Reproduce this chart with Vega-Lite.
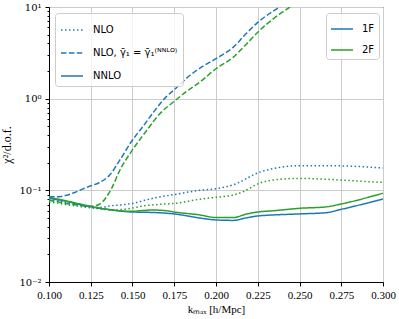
{
  "$schema": "https://vega.github.io/schema/vega-lite/v6.json",
  "width": 334,
  "height": 275,
  "autosize": "none",
  "padding": {"left": 49, "top": 7, "right": 16, "bottom": 37},
  "background": "white",
  "config": {
    "view": {"stroke": "black", "strokeWidth": 1},
    "axis": {
      "domainColor": "black",
      "tickColor": "black",
      "labelFont": "Liberation Serif",
      "labelFontSize": 11,
      "labelColor": "black",
      "titleFont": "Liberation Serif",
      "titleFontSize": 11,
      "titleFontWeight": "normal",
      "titleColor": "black",
      "gridColor": "#cccccc",
      "gridWidth": 1
    }
  },
  "data": {
    "values": [
      {"k": 0.100, "chi2": 0.085, "order": "NLO_gamma", "fit": "1F"},
      {"k": 0.105, "chi2": 0.085, "order": "NLO_gamma", "fit": "1F"},
      {"k": 0.110, "chi2": 0.088, "order": "NLO_gamma", "fit": "1F"},
      {"k": 0.115, "chi2": 0.094, "order": "NLO_gamma", "fit": "1F"},
      {"k": 0.120, "chi2": 0.103, "order": "NLO_gamma", "fit": "1F"},
      {"k": 0.125, "chi2": 0.112, "order": "NLO_gamma", "fit": "1F"},
      {"k": 0.130, "chi2": 0.121, "order": "NLO_gamma", "fit": "1F"},
      {"k": 0.1365, "chi2": 0.148, "order": "NLO_gamma", "fit": "1F"},
      {"k": 0.1425, "chi2": 0.215, "order": "NLO_gamma", "fit": "1F"},
      {"k": 0.150, "chi2": 0.354, "order": "NLO_gamma", "fit": "1F"},
      {"k": 0.156, "chi2": 0.49, "order": "NLO_gamma", "fit": "1F"},
      {"k": 0.162, "chi2": 0.69, "order": "NLO_gamma", "fit": "1F"},
      {"k": 0.170, "chi2": 1.04, "order": "NLO_gamma", "fit": "1F"},
      {"k": 0.176, "chi2": 1.30, "order": "NLO_gamma", "fit": "1F"},
      {"k": 0.1844, "chi2": 1.80, "order": "NLO_gamma", "fit": "1F"},
      {"k": 0.192, "chi2": 2.25, "order": "NLO_gamma", "fit": "1F"},
      {"k": 0.200, "chi2": 2.73, "order": "NLO_gamma", "fit": "1F"},
      {"k": 0.2104, "chi2": 3.65, "order": "NLO_gamma", "fit": "1F"},
      {"k": 0.2175, "chi2": 5.0, "order": "NLO_gamma", "fit": "1F"},
      {"k": 0.225, "chi2": 6.8, "order": "NLO_gamma", "fit": "1F"},
      {"k": 0.238, "chi2": 10.0, "order": "NLO_gamma", "fit": "1F"},
      {"k": 0.250, "chi2": 14.0, "order": "NLO_gamma", "fit": "1F"},

      {"k": 0.100, "chi2": 0.078, "order": "NLO_gamma", "fit": "2F"},
      {"k": 0.105, "chi2": 0.075, "order": "NLO_gamma", "fit": "2F"},
      {"k": 0.110, "chi2": 0.072, "order": "NLO_gamma", "fit": "2F"},
      {"k": 0.115, "chi2": 0.070, "order": "NLO_gamma", "fit": "2F"},
      {"k": 0.120, "chi2": 0.068, "order": "NLO_gamma", "fit": "2F"},
      {"k": 0.125, "chi2": 0.067, "order": "NLO_gamma", "fit": "2F"},
      {"k": 0.1305, "chi2": 0.071, "order": "NLO_gamma", "fit": "2F"},
      {"k": 0.1345, "chi2": 0.085, "order": "NLO_gamma", "fit": "2F"},
      {"k": 0.1375, "chi2": 0.105, "order": "NLO_gamma", "fit": "2F"},
      {"k": 0.1425, "chi2": 0.167, "order": "NLO_gamma", "fit": "2F"},
      {"k": 0.150, "chi2": 0.276, "order": "NLO_gamma", "fit": "2F"},
      {"k": 0.1585, "chi2": 0.45, "order": "NLO_gamma", "fit": "2F"},
      {"k": 0.1665, "chi2": 0.69, "order": "NLO_gamma", "fit": "2F"},
      {"k": 0.1745, "chi2": 0.92, "order": "NLO_gamma", "fit": "2F"},
      {"k": 0.1824, "chi2": 1.2, "order": "NLO_gamma", "fit": "2F"},
      {"k": 0.190, "chi2": 1.5, "order": "NLO_gamma", "fit": "2F"},
      {"k": 0.200, "chi2": 2.12, "order": "NLO_gamma", "fit": "2F"},
      {"k": 0.2104, "chi2": 2.84, "order": "NLO_gamma", "fit": "2F"},
      {"k": 0.218, "chi2": 3.9, "order": "NLO_gamma", "fit": "2F"},
      {"k": 0.225, "chi2": 5.3, "order": "NLO_gamma", "fit": "2F"},
      {"k": 0.2443, "chi2": 10.0, "order": "NLO_gamma", "fit": "2F"},
      {"k": 0.255, "chi2": 13.0, "order": "NLO_gamma", "fit": "2F"},

      {"k": 0.100, "chi2": 0.080, "order": "NLO", "fit": "1F"},
      {"k": 0.110, "chi2": 0.074, "order": "NLO", "fit": "1F"},
      {"k": 0.120, "chi2": 0.068, "order": "NLO", "fit": "1F"},
      {"k": 0.125, "chi2": 0.066, "order": "NLO", "fit": "1F"},
      {"k": 0.130, "chi2": 0.065, "order": "NLO", "fit": "1F"},
      {"k": 0.1375, "chi2": 0.068, "order": "NLO", "fit": "1F"},
      {"k": 0.145, "chi2": 0.070, "order": "NLO", "fit": "1F"},
      {"k": 0.150, "chi2": 0.072, "order": "NLO", "fit": "1F"},
      {"k": 0.1575, "chi2": 0.078, "order": "NLO", "fit": "1F"},
      {"k": 0.165, "chi2": 0.084, "order": "NLO", "fit": "1F"},
      {"k": 0.175, "chi2": 0.090, "order": "NLO", "fit": "1F"},
      {"k": 0.1904, "chi2": 0.100, "order": "NLO", "fit": "1F"},
      {"k": 0.200, "chi2": 0.104, "order": "NLO", "fit": "1F"},
      {"k": 0.2104, "chi2": 0.115, "order": "NLO", "fit": "1F"},
      {"k": 0.2263, "chi2": 0.158, "order": "NLO", "fit": "1F"},
      {"k": 0.2383, "chi2": 0.178, "order": "NLO", "fit": "1F"},
      {"k": 0.2503, "chi2": 0.186, "order": "NLO", "fit": "1F"},
      {"k": 0.2623, "chi2": 0.186, "order": "NLO", "fit": "1F"},
      {"k": 0.2822, "chi2": 0.183, "order": "NLO", "fit": "1F"},
      {"k": 0.300, "chi2": 0.175, "order": "NLO", "fit": "1F"},

      {"k": 0.100, "chi2": 0.075, "order": "NLO", "fit": "2F"},
      {"k": 0.110, "chi2": 0.070, "order": "NLO", "fit": "2F"},
      {"k": 0.120, "chi2": 0.066, "order": "NLO", "fit": "2F"},
      {"k": 0.130, "chi2": 0.063, "order": "NLO", "fit": "2F"},
      {"k": 0.1375, "chi2": 0.061, "order": "NLO", "fit": "2F"},
      {"k": 0.150, "chi2": 0.064, "order": "NLO", "fit": "2F"},
      {"k": 0.1575, "chi2": 0.068, "order": "NLO", "fit": "2F"},
      {"k": 0.165, "chi2": 0.070, "order": "NLO", "fit": "2F"},
      {"k": 0.175, "chi2": 0.072, "order": "NLO", "fit": "2F"},
      {"k": 0.1904, "chi2": 0.080, "order": "NLO", "fit": "2F"},
      {"k": 0.200, "chi2": 0.084, "order": "NLO", "fit": "2F"},
      {"k": 0.2104, "chi2": 0.089, "order": "NLO", "fit": "2F"},
      {"k": 0.2164, "chi2": 0.097, "order": "NLO", "fit": "2F"},
      {"k": 0.2263, "chi2": 0.120, "order": "NLO", "fit": "2F"},
      {"k": 0.2383, "chi2": 0.132, "order": "NLO", "fit": "2F"},
      {"k": 0.2503, "chi2": 0.135, "order": "NLO", "fit": "2F"},
      {"k": 0.2623, "chi2": 0.133, "order": "NLO", "fit": "2F"},
      {"k": 0.2822, "chi2": 0.127, "order": "NLO", "fit": "2F"},
      {"k": 0.300, "chi2": 0.122, "order": "NLO", "fit": "2F"},

      {"k": 0.100, "chi2": 0.082, "order": "NNLO", "fit": "1F"},
      {"k": 0.110, "chi2": 0.076, "order": "NNLO", "fit": "1F"},
      {"k": 0.120, "chi2": 0.069, "order": "NNLO", "fit": "1F"},
      {"k": 0.125, "chi2": 0.066, "order": "NNLO", "fit": "1F"},
      {"k": 0.135, "chi2": 0.062, "order": "NNLO", "fit": "1F"},
      {"k": 0.150, "chi2": 0.058, "order": "NNLO", "fit": "1F"},
      {"k": 0.160, "chi2": 0.0575, "order": "NNLO", "fit": "1F"},
      {"k": 0.175, "chi2": 0.0553, "order": "NNLO", "fit": "1F"},
      {"k": 0.190, "chi2": 0.050, "order": "NNLO", "fit": "1F"},
      {"k": 0.200, "chi2": 0.0475, "order": "NNLO", "fit": "1F"},
      {"k": 0.2104, "chi2": 0.047, "order": "NNLO", "fit": "1F"},
      {"k": 0.218, "chi2": 0.050, "order": "NNLO", "fit": "1F"},
      {"k": 0.225, "chi2": 0.0525, "order": "NNLO", "fit": "1F"},
      {"k": 0.250, "chi2": 0.0553, "order": "NNLO", "fit": "1F"},
      {"k": 0.266, "chi2": 0.057, "order": "NNLO", "fit": "1F"},
      {"k": 0.275, "chi2": 0.062, "order": "NNLO", "fit": "1F"},
      {"k": 0.300, "chi2": 0.0805, "order": "NNLO", "fit": "1F"},

      {"k": 0.100, "chi2": 0.084, "order": "NNLO", "fit": "2F"},
      {"k": 0.110, "chi2": 0.077, "order": "NNLO", "fit": "2F"},
      {"k": 0.120, "chi2": 0.070, "order": "NNLO", "fit": "2F"},
      {"k": 0.125, "chi2": 0.067, "order": "NNLO", "fit": "2F"},
      {"k": 0.135, "chi2": 0.062, "order": "NNLO", "fit": "2F"},
      {"k": 0.150, "chi2": 0.059, "order": "NNLO", "fit": "2F"},
      {"k": 0.155, "chi2": 0.060, "order": "NNLO", "fit": "2F"},
      {"k": 0.162, "chi2": 0.061, "order": "NNLO", "fit": "2F"},
      {"k": 0.170, "chi2": 0.060, "order": "NNLO", "fit": "2F"},
      {"k": 0.175, "chi2": 0.058, "order": "NNLO", "fit": "2F"},
      {"k": 0.190, "chi2": 0.054, "order": "NNLO", "fit": "2F"},
      {"k": 0.200, "chi2": 0.0505, "order": "NNLO", "fit": "2F"},
      {"k": 0.2104, "chi2": 0.0505, "order": "NNLO", "fit": "2F"},
      {"k": 0.218, "chi2": 0.055, "order": "NNLO", "fit": "2F"},
      {"k": 0.225, "chi2": 0.058, "order": "NNLO", "fit": "2F"},
      {"k": 0.235, "chi2": 0.060, "order": "NNLO", "fit": "2F"},
      {"k": 0.250, "chi2": 0.0637, "order": "NNLO", "fit": "2F"},
      {"k": 0.266, "chi2": 0.066, "order": "NNLO", "fit": "2F"},
      {"k": 0.275, "chi2": 0.071, "order": "NNLO", "fit": "2F"},
      {"k": 0.300, "chi2": 0.093, "order": "NNLO", "fit": "2F"}
    ]
  },
  "mark": {"type": "line", "clip": true, "strokeWidth": 1.5, "interpolate": "monotone", "strokeCap": "butt"},
  "encoding": {
    "x": {
      "field": "k",
      "type": "quantitative",
      "scale": {"domain": [0.1, 0.3], "nice": false, "zero": false},
      "axis": {
        "title": "kₘₐₓ [h/Mpc]",
        "values": [0.1, 0.125, 0.15, 0.175, 0.2, 0.225, 0.25, 0.275, 0.3],
        "format": ".3f",
        "tickSize": 4,
        "labelPadding": 3,
        "titlePadding": 3,
        "labelFlush": false
      }
    },
    "y": {
      "field": "chi2",
      "type": "quantitative",
      "scale": {"type": "log", "domain": [0.01, 10], "nice": false},
      "axis": {
        "title": "χ²/d.o.f.",
        "titleFontSize": 12,
        "values": [0.01, 0.02, 0.03, 0.04, 0.05, 0.06, 0.07, 0.08, 0.09, 0.1, 0.2, 0.3, 0.4, 0.5, 0.6, 0.7, 0.8, 0.9, 1, 2, 3, 4, 5, 6, 7, 8, 9, 10],
        "labelExpr": "abs(log(datum.value)/LN10 - round(log(datum.value)/LN10)) < 0.001 ? (round(log(datum.value)/LN10) == 1 ? '10¹' : round(log(datum.value)/LN10) == 0 ? '10⁰' : round(log(datum.value)/LN10) == -1 ? '10⁻¹' : '10⁻²') : ''",
        "labelFont": "DejaVu Serif",
        "labelFontSize": 10,
        "tickSize": {"condition": {"test": "abs(log(datum.value)/LN10 - round(log(datum.value)/LN10)) < 0.001", "value": 4}, "value": 2},
        "gridOpacity": {"condition": {"test": "abs(log(datum.value)/LN10 - round(log(datum.value)/LN10)) < 0.001", "value": 1}, "value": 0},
        "labelPadding": 4,
        "titlePadding": 5,
        "labelFlush": false
      }
    },
    "color": {
      "field": "fit",
      "type": "nominal",
      "scale": {"domain": ["1F", "2F"], "range": ["#1f77b4", "#2ca02c"]},
      "legend": {
        "orient": "none",
        "legendX": 277,
        "legendY": 6,
        "title": null,
        "symbolType": "stroke",
        "symbolSize": 484,
        "symbolStrokeWidth": 1.5,
        "symbolDash": [1, 0],
        "labelFont": "DejaVu Sans",
        "labelFontSize": 10,
        "labelColor": "black",
        "labelOffset": 8,
        "rowPadding": 4,
        "fillColor": "rgba(255,255,255,0.8)",
        "strokeColor": "#cccccc",
        "cornerRadius": 3,
        "padding": 4
      }
    },
    "strokeDash": {
      "field": "order",
      "type": "nominal",
      "scale": {"domain": ["NLO", "NLO_gamma", "NNLO"], "range": [[1.5, 2.5], [5.5, 2.4], [1, 0]]},
      "legend": {
        "orient": "none",
        "legendX": 6,
        "legendY": 6,
        "title": null,
        "symbolType": "stroke",
        "symbolSize": 484,
        "symbolStrokeWidth": 1.5,
        "symbolStrokeColor": "#1f77b4",
        "labelFont": "DejaVu Sans",
        "labelFontSize": 10,
        "labelColor": "black",
        "labelOffset": 9,
        "rowPadding": 6,
        "labelExpr": "datum.value == 'NLO_gamma' ? 'NLO, γ̄₁ = γ̄₁⁽ᴺᴺᴸᴼ⁾' : datum.value",
        "fillColor": "rgba(255,255,255,0.8)",
        "strokeColor": "#cccccc",
        "cornerRadius": 3,
        "padding": 5
      }
    }
  }
}
